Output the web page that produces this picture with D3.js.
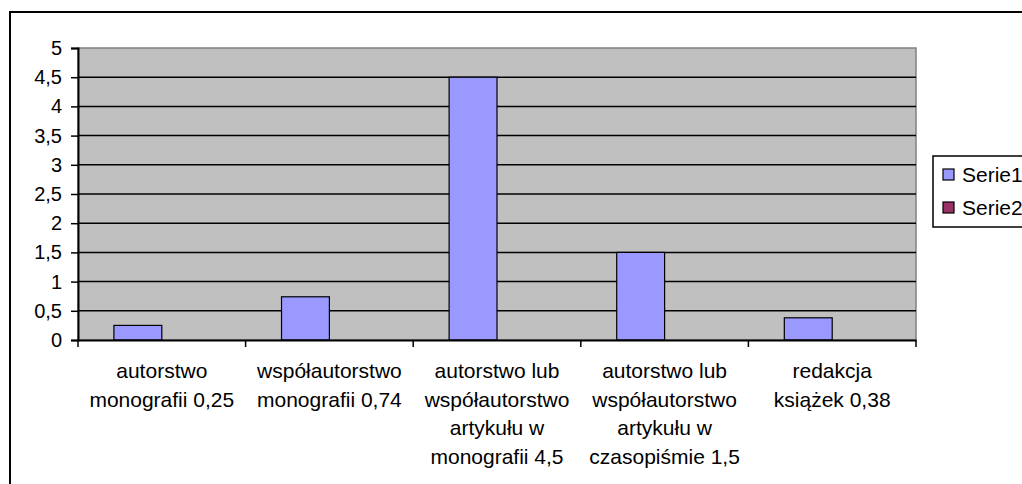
<!DOCTYPE html>
<html lang="pl">
<head>
    <meta charset="UTF-8">
    <title>Wykres słupkowy</title>
    <script src="https://d3js.org/d3.v7.min.js"></script>
    <style>
        body { margin: 0; background: #fff; }
        text { font-family: "Liberation Sans", Arial, sans-serif; fill: #000; }
    </style>
</head>
<body>
    <svg id="chart"></svg>
    <script>
        // data
        const categories = [
            "autorstwo monografii 0,25",
            "współautorstwo monografii 0,74",
            "autorstwo lub współautorstwo artykułu w monografii 4,5",
            "autorstwo lub współautorstwo artykułu w czasopiśmie 1,5",
            "redakcja książek 0,38"
        ];
        const labelLines = [
            ["autorstwo", "monografii 0,25"],
            ["współautorstwo", "monografii 0,74"],
            ["autorstwo lub", "współautorstwo", "artykułu w", "monografii 4,5"],
            ["autorstwo lub", "współautorstwo", "artykułu w", "czasopiśmie 1,5"],
            ["redakcja", "książek 0,38"]
        ];
        const seriesNames = ["Serie1", "Serie2"];
        const serie1 = [0.25, 0.74, 4.5, 1.5, 0.38];
        const serie2 = [null, null, null, null, null];
        const yTicks = [0, 0.5, 1, 1.5, 2, 2.5, 3, 3.5, 4, 4.5, 5];
        const seriesColors = ["#9999FF", "#993366"];

        const width = 1022, height = 484;
        const plot = { left: 78, right: 916, top: 48, bottom: 340 };

        const svg = d3.select("#chart").attr("width", width).attr("height", height);

        // chart area border (right and bottom edges run off the picture)
        svg.append("rect")
            .attr("x", 10).attr("y", 12)
            .attr("width", 1040).attr("height", 500)
            .attr("fill", "#fff").attr("stroke", "#000").attr("stroke-width", 2);

        const x = d3.scaleBand().domain(categories).range([plot.left, plot.right]);
        const xInner = d3.scaleBand().domain(seriesNames)
            .range([0, x.bandwidth()]).paddingInner(0).paddingOuter(0.75);
        const y = d3.scaleLinear().domain([0, 5]).range([plot.bottom, plot.top]);

        // plot area
        svg.append("rect")
            .attr("x", plot.left).attr("y", plot.top)
            .attr("width", plot.right - plot.left).attr("height", plot.bottom - plot.top)
            .attr("fill", "#C0C0C0").attr("stroke", "#808080").attr("stroke-width", 1.5);

        // gridlines
        svg.append("g").selectAll("line")
            .data(yTicks.filter(d => d > 0 && d < 5))
            .join("line")
            .attr("x1", plot.left).attr("x2", plot.right)
            .attr("y1", d => y(d)).attr("y2", d => y(d))
            .attr("stroke", "#000").attr("stroke-width", 1.5);

        // bars
        const rows = categories.map((c, i) => ({ cat: c, values: [serie1[i], serie2[i]] }));
        svg.append("g").selectAll("g")
            .data(rows)
            .join("g")
            .attr("transform", d => `translate(${x(d.cat)},0)`)
            .selectAll("rect")
            .data(d => d.values.map((v, j) => ({ key: seriesNames[j], value: v, color: seriesColors[j] })).filter(d => d.value != null))
            .join("rect")
            .attr("x", d => xInner(d.key))
            .attr("width", xInner.bandwidth())
            .attr("y", d => y(d.value))
            .attr("height", d => y(0) - y(d.value))
            .attr("fill", d => d.color)
            .attr("stroke", "#000").attr("stroke-width", 1.2);

        // y axis
        const fmt = d => String(d).replace(".", ",");
        const yAxis = svg.append("g")
            .attr("transform", `translate(${plot.left},0)`)
            .call(d3.axisLeft(y).tickValues(yTicks).tickFormat(fmt).tickSize(7).tickPadding(9));
        yAxis.select(".domain").attr("stroke", "#000").attr("stroke-width", 2);
        yAxis.selectAll(".tick line").attr("stroke", "#000").attr("stroke-width", 1.5);
        yAxis.selectAll(".tick text").attr("font-size", 20).attr("font-family", "Liberation Sans, Arial, sans-serif");

        // x axis
        const xAxis = svg.append("g")
            .attr("transform", `translate(0,${plot.bottom})`)
            .call(d3.axisBottom(x).tickSize(0).tickFormat(""));
        xAxis.select(".domain").attr("stroke", "#000").attr("stroke-width", 2);
        xAxis.selectAll(".tick").remove();

        const bounds = categories.map(c => x(c)).concat([x(categories[categories.length - 1]) + x.bandwidth()]);
        xAxis.selectAll("line.sep")
            .data(bounds)
            .join("line")
            .attr("class", "sep")
            .attr("x1", d => d).attr("x2", d => d)
            .attr("y1", 0).attr("y2", 7)
            .attr("stroke", "#000").attr("stroke-width", 1.5);

        const labels = svg.append("g").selectAll("text")
            .data(categories)
            .join("text")
            .attr("x", d => x(d) + x.bandwidth() / 2)
            .attr("y", plot.bottom + 38)
            .attr("text-anchor", "middle")
            .attr("font-size", 21);
        labels.selectAll("tspan")
            .data((d, i) => labelLines[i])
            .join("tspan")
            .attr("x", function () { return this.parentNode.getAttribute("x"); })
            .attr("dy", (d, i) => i === 0 ? 0 : 28.5)
            .text(d => d);

        // legend (cut off at the right edge, as in the original)
        const legend = svg.append("g").attr("transform", "translate(933,156)");
        legend.append("rect")
            .attr("width", 120).attr("height", 71)
            .attr("fill", "#fff").attr("stroke", "#000").attr("stroke-width", 1.5);
        const item = legend.selectAll("g.item")
            .data(seriesNames)
            .join("g")
            .attr("class", "item")
            .attr("transform", (d, i) => `translate(10,${13 + i * 33})`);
        item.append("rect")
            .attr("width", 11).attr("height", 11)
            .attr("fill", (d, i) => seriesColors[i])
            .attr("stroke", "#000").attr("stroke-width", 1.2);
        item.append("text")
            .attr("x", 19).attr("y", 6)
            .attr("dy", "0.35em")
            .attr("font-size", 21)
            .text(d => d);
    </script>
</body>
</html>
